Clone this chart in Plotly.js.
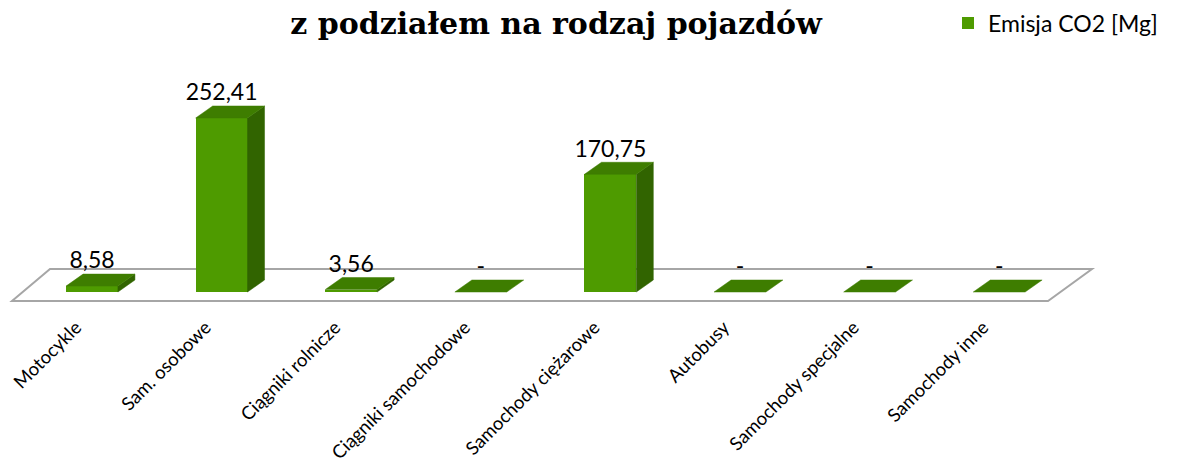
<!DOCTYPE html>
<html>
<head>
<meta charset="utf-8">
<script src="https://cdn.plot.ly/plotly-3.0.1.min.js"></script>
<style>html,body{margin:0;padding:0;background:#fff;}#chart{width:1179px;height:469px;}</style>
</head>
<body>
<div id="chart"></div>
<script>
// ---- data ----
const categories = ['Motocykle', 'Sam. osobowe', 'Ciągniki rolnicze', 'Ciągniki samochodowe',
  'Samochody ciężarowe', 'Autobusy', 'Samochody specjalne', 'Samochody inne'];
const values = [8.58, 252.41, 3.56, 0, 170.75, 0, 0, 0];
const valueLabels = ['8,58', '252,41', '3,56', '-', '170,75', '-', '-', '-'];
const seriesName = 'Emisja CO2 [Mg]';
const titleText = 'z podziałem na rodzaj pojazdów';

// ---- geometry (pseudo-3D) ----
const W = 1179, H = 469;
const slot = 129.6, x0px = 92;           // px per category, first centre px
const pxPerUnit = 0.6894;                // y scale
const plotTop = 60, plotBottom = 306, zeroPx = 292;
const barW = 0.40;                       // in category units
const dX = 17 / slot, dY = 12 / pxPerUnit; // bar depth in data units
const xr = [-x0px / slot, (W - x0px) / slot];
const yBottom = -(plotBottom - zeroPx) / pxPerUnit;
const yr = [yBottom, yBottom + (plotBottom - plotTop) / pxPerUnit];

const idx = categories.map((c, i) => i);
const topX = [], topY = [], sideX = [], sideY = [];
values.forEach((v, i) => {
  const l = i - barW / 2, r = i + barW / 2;
  topX.push(l, r, r + dX, l + dX, l, null);
  topY.push(v, v, v + dY, v + dY, v, null);
  if (v > 0) {
    sideX.push(r, r + dX, r + dX, r, r, null);
    sideY.push(0, dY, v + dY, v, 0, null);
  }
});

// floor parallelogram (px -> data)
const px2x = p => (p - x0px) / slot;
const px2y = p => (zeroPx - p) / pxPerUnit;
const floor = [[12, 301], [1048, 301], [1092, 269], [50, 269]];
const floorPath = floor.map((p, k) => (k ? 'L' : 'M') + px2x(p[0]) + ',' + px2y(p[1])).join(' ') + ' Z';

const green = '#4e9b00', greenTop = '#3e7d00', greenSide = '#316400';
const labelFont = 'Lato, Open Sans, sans-serif';

const traces = [
  { type: 'bar', x: idx, y: values, width: barW, name: seriesName,
    marker: { color: green, line: { width: 0 } }, hoverinfo: 'skip', showlegend: true },
  { type: 'scatter', mode: 'lines', x: sideX, y: sideY, fill: 'toself', fillcolor: greenSide,
    line: { width: 0.5, color: greenSide }, hoverinfo: 'skip', showlegend: false },
  { type: 'scatter', mode: 'lines', x: topX, y: topY, fill: 'toself', fillcolor: greenTop,
    line: { width: 0.5, color: greenTop }, hoverinfo: 'skip', showlegend: false },
  { type: 'scatter', mode: 'text', x: idx, y: values.map(v => v + dY), text: valueLabels,
    textposition: 'top center', textfont: { family: labelFont, size: 23, color: '#000' },
    hoverinfo: 'skip', showlegend: false, cliponaxis: false }
];

const layout = {
  width: W, height: H,
  margin: { l: 0, r: 0, t: plotTop, b: H - plotBottom, pad: 0 },
  paper_bgcolor: '#fff', plot_bgcolor: 'rgba(0,0,0,0)',
  title: { text: '<b>' + titleText + '</b>', font: { family: 'DejaVu Serif, serif', size: 30, color: '#000' },
    x: 556 / W, xanchor: 'center', y: 1 - 23 / H, yanchor: 'middle' },
  showlegend: true,
  legend: { x: 948 / W, xanchor: 'left', yref: 'container', y: 1 - 23 / H, yanchor: 'middle',
    font: { family: labelFont, size: 23, color: '#000' }, bgcolor: 'rgba(0,0,0,0)',
    itemwidth: 30, tracegroupgap: 0 },
  xaxis: { range: xr, tickvals: idx, ticktext: categories, tickangle: -45, showgrid: false,
    zeroline: false, showline: false, ticks: '', automargin: false, fixedrange: true,
    ticklabelshift: -16, ticklabelstandoff: 6,
    tickfont: { family: labelFont, size: 18.5, color: '#000' } },
  yaxis: { range: yr, visible: false, showgrid: false, zeroline: false, automargin: false, fixedrange: true },
  shapes: [{ type: 'path', xref: 'x', yref: 'y', path: floorPath, fillcolor: '#ffffff',
    line: { color: '#a6a6a6', width: 2 }, layer: 'below' }],
  bargap: 0
};

Plotly.newPlot('chart', traces, layout, { displayModeBar: false, staticPlot: true });
</script>
</body>
</html>
